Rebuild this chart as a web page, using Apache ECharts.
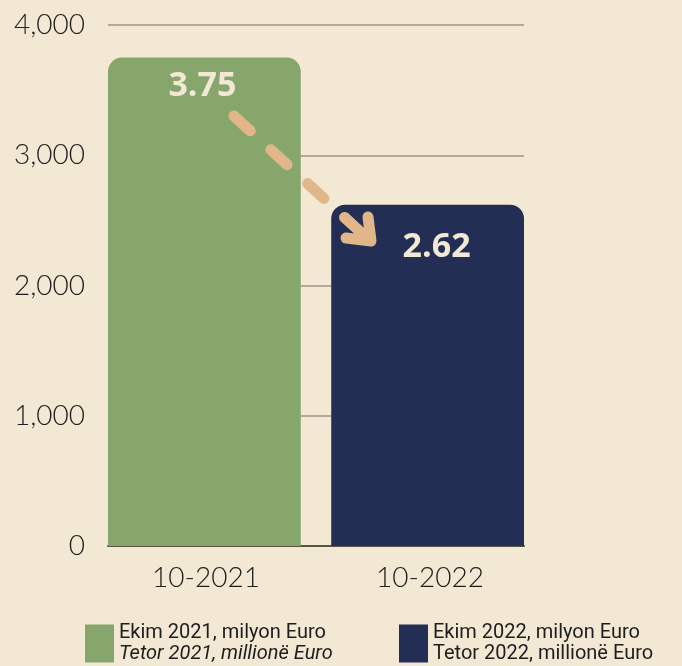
<!DOCTYPE html>
<html>
<head>
<meta charset="utf-8">
<script src="https://cdn.jsdelivr.net/npm/echarts@6/dist/echarts.min.js"></script>
<style>
  html, body { margin: 0; padding: 0; background: #f2e8d4; }
  #main { width: 682px; height: 666px; }
</style>
</head>
<body>
<div id="main"></div>
<script>
// data
const categories = ['10-2021', '10-2022'];
const seriesNames = ['Ekim 2021, milyon Euro', 'Ekim 2022, milyon Euro'];
const seriesSub = ['Tetor 2021, millionë Euro', 'Tetor 2022, millionë Euro'];
const values2021 = [3750, '-'];
const values2022 = ['-', 2620];
const yTicks = [0, 1000, 2000, 3000, 4000];

const green = '#87a66c';
const navy = '#222e53';
const cream = '#f3e8d4';
const tan = '#e1b689';

const chart = echarts.init(document.getElementById('main'));

function valueLabel(offset) {
  return {
    show: true,
    position: 'insideTop',
    distance: 0,
    offset: offset,
    color: cream,
    fontFamily: 'Open Sans',
    fontWeight: 'bold',
    fontSize: 34,
    formatter: p => (p.value / 1000).toFixed(2)
  };
}

const option = {
  backgroundColor: '#f2e8d4',
  animation: false,
  grid: { left: 108, right: 158, top: 25, bottom: 120 },
  xAxis: {
    type: 'category',
    data: categories,
    axisLine: { show: true, lineStyle: { color: '#5b5548', width: 2 } },
    axisTick: { show: false },
    axisLabel: {
      margin: 18,
      formatter: (v, i) => (i === 0 ? '{a|' + v + '}' : '{b|' + v + '}'),
      rich: {
        a: { fontFamily: 'Lato', fontWeight: 300, fontSize: 28, color: '#1e1e1e', padding: [0, 12, 0, 0] },
        b: { fontFamily: 'Lato', fontWeight: 300, fontSize: 28, color: '#1e1e1e', padding: [0, 0, 0, 20] }
      }
    }
  },
  yAxis: {
    type: 'value',
    min: yTicks[0],
    max: yTicks[yTicks.length - 1],
    interval: 1000,
    axisLine: { show: false },
    axisTick: { show: false },
    splitLine: { lineStyle: { color: '#b3ab97', width: 2 } },
    axisLabel: {
      margin: 23,
      fontFamily: 'Lato',
      fontWeight: 300,
      fontSize: 28,
      color: '#1e1e1e',
      formatter: v => v.toLocaleString('en-US')
    }
  },
  legend: [
    {
      data: [seriesNames[0]],
      left: 85, top: 623, padding: 0,
      itemWidth: 29, itemHeight: 38, itemGap: 6,
      icon: 'rect',
      formatter: n => '{a|' + n + '}\n{i|' + seriesSub[0] + '}',
      textStyle: {
        rich: {
          a: { fontFamily: 'Roboto', fontSize: 20, color: '#1e1e1e', lineHeight: 21 },
          i: { fontFamily: 'Roboto', fontStyle: 'italic', fontSize: 20, color: '#1e1e1e', lineHeight: 21 }
        }
      }
    },
    {
      data: [seriesNames[1]],
      left: 399, top: 623, padding: 0,
      itemWidth: 29, itemHeight: 38, itemGap: 6,
      icon: 'rect',
      formatter: n => '{a|' + n + '}\n{a|' + seriesSub[1] + '}',
      textStyle: {
        rich: {
          a: { fontFamily: 'Roboto', fontSize: 20, color: '#1e1e1e', lineHeight: 21 }
        }
      }
    }
  ],
  series: [
    {
      name: seriesNames[0],
      type: 'bar',
      data: values2021,
      barWidth: 193,
      barGap: '-92%',
      itemStyle: { color: green, borderRadius: [14, 14, 0, 0] },
      label: valueLabel([-2, 12])
    },
    {
      name: seriesNames[1],
      type: 'bar',
      data: values2022,
      barWidth: 193,
      itemStyle: { color: navy, borderRadius: [14, 14, 0, 0] },
      label: valueLabel([9, 26])
    }
  ],
  graphic: [
    {
      type: 'line',
      shape: { x1: 234, y1: 116, x2: 367, y2: 238 },
      style: { stroke: tan, lineWidth: 11, lineCap: 'round', lineDash: [22, 28] },
      z: 100
    },
    {
      type: 'polyline',
      shape: { points: [[368, 217], [371, 241], [346, 238]] },
      style: { stroke: tan, lineWidth: 11, lineCap: 'round', lineJoin: 'round', fill: null },
      z: 100
    }
  ]
};

chart.setOption(option);
</script>
</body>
</html>
